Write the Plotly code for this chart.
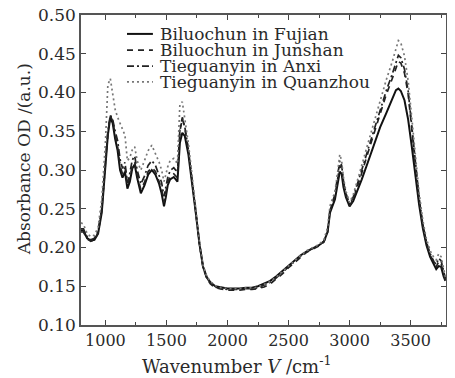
import plotly.graph_objects as go

wavenumber = [800, 820, 850, 880, 910, 940, 970, 1000, 1020, 1040, 1060, 1080, 1100, 1120, 1140,
              1160, 1180, 1200, 1220, 1240, 1260, 1290, 1320, 1350, 1380, 1410, 1440, 1460, 1480,
              1495, 1510, 1530, 1560, 1590, 1610, 1630, 1650, 1680, 1710, 1740, 1770, 1800, 1830,
              1860, 1900, 1950, 2000, 2050, 2100, 2150, 2200, 2250, 2300, 2350, 2400, 2450, 2500,
              2550, 2600, 2650, 2700, 2750, 2790, 2820, 2840, 2860, 2880, 2900, 2920, 2935, 2950,
              2970, 2990, 3000, 3030, 3070, 3100, 3150, 3200, 3250, 3300, 3350, 3380, 3400, 3420,
              3450, 3480, 3510, 3540, 3570, 3600, 3630, 3660, 3690, 3710, 3730, 3750, 3770, 3785]

biluochun_fujian = [0.222, 0.222, 0.212, 0.209, 0.210, 0.218, 0.245, 0.300, 0.345, 0.368, 0.360, 0.340,
                    0.325, 0.300, 0.290, 0.298, 0.276, 0.285, 0.302, 0.307, 0.290, 0.270, 0.280, 0.294,
                    0.300, 0.294, 0.282, 0.270, 0.253, 0.265, 0.280, 0.288, 0.291, 0.285, 0.335, 0.348,
                    0.344, 0.320, 0.285, 0.245, 0.205, 0.175, 0.162, 0.155, 0.150, 0.148, 0.147, 0.147,
                    0.147, 0.148, 0.148, 0.150, 0.153, 0.157, 0.163, 0.170, 0.177, 0.184, 0.190, 0.195,
                    0.199, 0.203, 0.208, 0.220, 0.245, 0.255, 0.262, 0.280, 0.298, 0.295, 0.278, 0.265,
                    0.255, 0.253, 0.260, 0.275, 0.288, 0.310, 0.332, 0.355, 0.373, 0.392, 0.403, 0.405,
                    0.402, 0.390, 0.365, 0.330, 0.290, 0.255, 0.225, 0.203, 0.188, 0.178, 0.172, 0.176,
                    0.175, 0.163, 0.157]

biluochun_junshan = [0.220, 0.220, 0.211, 0.208, 0.210, 0.219, 0.248, 0.305, 0.348, 0.370, 0.363, 0.345,
                     0.330, 0.305, 0.295, 0.303, 0.280, 0.290, 0.305, 0.310, 0.293, 0.275, 0.284, 0.298,
                     0.303, 0.298, 0.286, 0.276, 0.258, 0.270, 0.284, 0.292, 0.295, 0.290, 0.350, 0.366,
                     0.355, 0.325, 0.288, 0.246, 0.205, 0.174, 0.160, 0.153, 0.148, 0.146, 0.145, 0.145,
                     0.145, 0.146, 0.146, 0.147, 0.149, 0.153, 0.159, 0.166, 0.174, 0.181, 0.188, 0.194,
                     0.198, 0.202, 0.207, 0.220, 0.248, 0.258, 0.266, 0.286, 0.306, 0.302, 0.283, 0.268,
                     0.257, 0.254, 0.262, 0.280, 0.296, 0.322, 0.348, 0.374, 0.397, 0.418, 0.432, 0.440,
                     0.438, 0.425, 0.398, 0.355, 0.305, 0.262, 0.228, 0.205, 0.190, 0.180, 0.175, 0.182,
                     0.180, 0.166, 0.158]

tieguanyin_anxi = [0.224, 0.224, 0.214, 0.210, 0.212, 0.221, 0.250, 0.306, 0.349, 0.371, 0.365, 0.350,
                   0.338, 0.314, 0.302, 0.310, 0.284, 0.296, 0.313, 0.318, 0.300, 0.282, 0.292, 0.306,
                   0.312, 0.306, 0.293, 0.284, 0.266, 0.277, 0.290, 0.299, 0.303, 0.297, 0.352, 0.368,
                   0.356, 0.326, 0.289, 0.247, 0.206, 0.175, 0.161, 0.154, 0.149, 0.147, 0.146, 0.146,
                   0.146, 0.147, 0.147, 0.148, 0.151, 0.155, 0.161, 0.168, 0.176, 0.183, 0.189, 0.195,
                   0.199, 0.203, 0.208, 0.222, 0.250, 0.260, 0.268, 0.290, 0.312, 0.306, 0.286, 0.270,
                   0.259, 0.256, 0.265, 0.284, 0.300, 0.326, 0.352, 0.378, 0.402, 0.424, 0.440, 0.448,
                   0.445, 0.430, 0.402, 0.358, 0.308, 0.264, 0.230, 0.207, 0.192, 0.182, 0.178, 0.186,
                   0.183, 0.168, 0.160]

tieguanyin_quanzhou = [0.232, 0.230, 0.218, 0.214, 0.216, 0.226, 0.262, 0.335, 0.410, 0.418, 0.398, 0.378,
                       0.368, 0.360, 0.352, 0.345, 0.312, 0.316, 0.326, 0.330, 0.312, 0.300, 0.312, 0.325,
                       0.332, 0.322, 0.310, 0.300, 0.285, 0.294, 0.304, 0.312, 0.315, 0.308, 0.385, 0.388,
                       0.368, 0.334, 0.293, 0.250, 0.208, 0.177, 0.163, 0.156, 0.151, 0.148, 0.147, 0.147,
                       0.147, 0.148, 0.148, 0.149, 0.152, 0.156, 0.162, 0.169, 0.177, 0.184, 0.190, 0.196,
                       0.200, 0.204, 0.210, 0.226, 0.254, 0.264, 0.272, 0.294, 0.320, 0.312, 0.290, 0.273,
                       0.261, 0.258, 0.268, 0.288, 0.306, 0.334, 0.362, 0.390, 0.416, 0.440, 0.458, 0.467,
                       0.464, 0.447, 0.415, 0.368, 0.316, 0.270, 0.235, 0.211, 0.196, 0.187, 0.184, 0.192,
                       0.188, 0.172, 0.162]

series_names = ["Biluochun in Fujian", "Biluochun in Junshan", "Tieguanyin in Anxi", "Tieguanyin in Quanzhou"]
series_values = [biluochun_fujian, biluochun_junshan, tieguanyin_anxi, tieguanyin_quanzhou]
x_tick_values = [1000, 1500, 2000, 2500, 3000, 3500]
y_tick_values = [0.10, 0.15, 0.20, 0.25, 0.30, 0.35, 0.40, 0.45, 0.50]
x_title = "Wavenumber <i>V</i> /cm<sup>-1</sup>"
y_title = "Absorbance OD /(a.u.)"

styles = [
    dict(color="#111111", width=2.0, dash="solid"),
    dict(color="#222222", width=1.7, dash="6px,5px"),
    dict(color="#222222", width=1.7, dash="7px,3px,2px,3px"),
    dict(color="#777777", width=1.7, dash="2px,3px"),
]

font_family = "DejaVu Serif"
text_color = "#2a2a2a"

fig = go.Figure()
for name, vals, st in zip(series_names, series_values, styles):
    fig.add_trace(go.Scatter(x=wavenumber, y=vals, mode="lines", name=name, line=st,
                             showlegend=False))

# Legend drawn as line samples + labels (tighter row spacing than Plotly's legend allows)
legend_rows_y = [0.939, 0.887, 0.835, 0.784]
shapes = []
annotations = []
for name, st, ly in zip(series_names, styles, legend_rows_y):
    shapes.append(dict(type="line", xref="paper", yref="paper", x0=0.126, x1=0.197, y0=ly, y1=ly,
                       line=dict(color=st["color"], width=st["width"], dash=st["dash"])))
    annotations.append(dict(text=name, xref="paper", yref="paper", x=0.212, y=ly,
                            xanchor="left", yanchor="middle", showarrow=False,
                            font=dict(size=17, color=text_color, family=font_family)))

annotations.append(dict(text=x_title, xref="paper", yref="paper", x=0.427, y=-0.128,
                        xanchor="center", yanchor="middle", showarrow=False,
                        font=dict(size=18, color=text_color, family=font_family)))
annotations.append(dict(text=y_title, xref="paper", yref="paper", x=-0.156, y=0.535,
                        xanchor="center", yanchor="middle", showarrow=False, textangle=-90,
                        font=dict(size=17, color=text_color, family=font_family)))

# The page body has an 8px default margin, so the figure is 8px smaller and shifted.
fig.update_layout(
    width=447, height=370,
    margin=dict(l=73, r=9, t=7, b=53, autoexpand=False),
    paper_bgcolor="white", plot_bgcolor="white",
    font=dict(family=font_family, size=16, color=text_color),
    showlegend=False,
    shapes=shapes,
    annotations=annotations,
    xaxis=dict(
        range=[800, 3790], tickvals=x_tick_values, automargin=False,
        ticks="inside", ticklen=5, tickwidth=1.2, tickcolor="#444444",
        minor=dict(dtick=250, tick0=750, ticks="inside", ticklen=3, tickcolor="#444444"),
        showline=True, linecolor="#555555", linewidth=1.5, mirror="allticks",
        showgrid=False, zeroline=False, ticklabeloverflow="allow",
        tickfont=dict(size=16),
    ),
    yaxis=dict(
        range=[0.10, 0.50], tickvals=y_tick_values, tickformat=".2f", automargin=False,
        ticks="inside", ticklen=5, tickwidth=1.2, tickcolor="#444444",
        showline=True, linecolor="#555555", linewidth=1.5, mirror="allticks",
        showgrid=False, zeroline=False, ticklabeloverflow="allow",
        tickfont=dict(size=17),
    ),
)

fig.write_html("out.html")
